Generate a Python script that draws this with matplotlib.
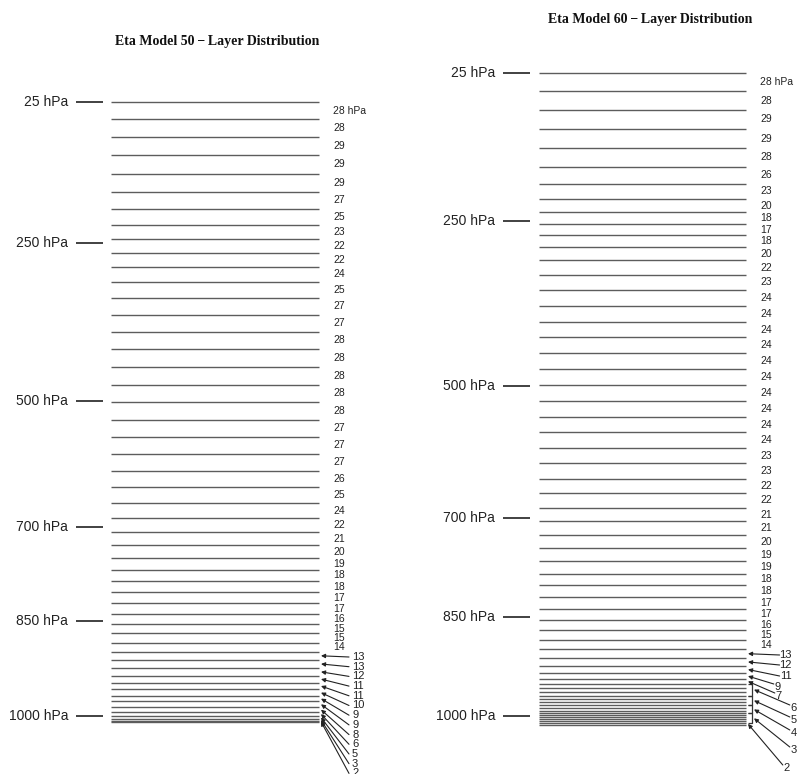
import matplotlib
matplotlib.use('Agg')
import matplotlib.pyplot as plt
import numpy as np

# ---------------- data ----------------
top_pressure = 25  # hPa, model top
ref_levels = [25, 250, 500, 700, 850, 1000]
ref_labels = ['25 hPa', '250 hPa', '500 hPa', '700 hPa', '850 hPa', '1000 hPa']

titles = ['Eta Model 50\u2009\u2212\u2009Layer Distribution',
          'Eta Model 60\u2009\u2212\u2009Layer Distribution']

# layer thickness (hPa), top to bottom
thick50 = [28, 28, 29, 29, 29, 27, 25, 23, 22, 22, 24, 25, 27, 27, 28, 28, 28, 28, 28,
           27, 27, 27, 26, 25, 24, 22, 21, 20, 19, 18, 18, 17, 17, 16, 15, 15, 14,
           13, 13, 12, 11, 11, 10, 9, 9, 8, 6, 5, 3, 2]
thick60 = [28, 28, 29, 29, 28, 26, 23, 20, 18, 17, 18, 20, 22, 23,
           24, 24, 24, 24, 24, 24, 24, 24, 24, 24,
           23, 23, 22, 22, 21, 21, 20, 19, 19, 18, 18, 17, 17, 16, 15, 14,
           13, 12, 11, 9, 7,
           6, 6, 6, 5, 5, 5, 4, 4, 4, 3, 3, 3, 3, 3, 2]
# number of layers sharing one label (bracketed groups)
groups50 = [1] * 50
groups60 = [1] * 45 + [3, 3, 3, 5, 1]

# ---------------- layout (pixels) ----------------
W, H = 797, 774
panels = [
    dict(thick=thick50, groups=groups50, title=titles[0], title_xy=(217, 42),
         xlim=(0, 400), px_top=101.7, scale=0.630,
         line_x=(111, 319), tick_x=(76, 103), label_x=333,
         arrow_start=37, tip_x=321, bracket_x=None,
         arrow_lab_y=[657 + 9.7 * k for k in range(13)],
         arrow_lab_x=[352] * 13, arrow_ha='left'),
    dict(thick=thick60, groups=groups60, title=titles[1], title_xy=(650, 20),
         xlim=(400, 797), px_top=73.0, scale=0.6595,
         line_x=(539, 746), tick_x=(503, 530), label_x=760,
         arrow_start=40, tip_x=748, bracket_x=752,
         arrow_lab_y=[655, 665, 676, 687, 696, 708, 720, 733, 750, 768],
         arrow_lab_x=[792, 792, 792, 781, 782, 797, 797, 797, 797, 790], arrow_ha='right'),
]

plt.rcParams['font.family'] = ['Liberation Sans', 'DejaVu Sans']
fig = plt.figure(figsize=(W / 100, H / 100), dpi=100)
fig.patch.set_facecolor('white')

LINE_C = '#5c5c5c'
TEXT_C = '#222222'

for P in panels:
    x0, x1 = P['xlim']
    ax = fig.add_axes([x0 / W, 0, (x1 - x0) / W, 1])
    ax.set_xlim(x0, x1)
    pfun = lambda ypx, P=P: top_pressure + (ypx - P['px_top']) / P['scale']
    ax.set_ylim(pfun(H), pfun(0))
    ax.axis('off')

    thick = np.array(P['thick'], dtype=float)
    interfaces = top_pressure + np.concatenate([[0], np.cumsum(thick)])

    # model interfaces
    ax.hlines(interfaces, P['line_x'][0], P['line_x'][1], color=LINE_C, lw=1.0)

    # reference pressure marks
    ax.hlines(ref_levels, P['tick_x'][0], P['tick_x'][1], color='#333333', lw=1.3)
    for lev, lab in zip(ref_levels, ref_labels):
        ax.text(P['tick_x'][0] - 8, lev, lab, ha='right', va='center',
                fontsize=10, color=TEXT_C)

    # layer thickness labels
    i = 0
    k_arrow = 0
    for gi, n in enumerate(P['groups']):
        ptop, pbot = interfaces[i], interfaces[i + n]
        mid = 0.5 * (ptop + pbot)
        val = int(thick[i])
        if gi < P['arrow_start']:
            txt = f'{val} hPa' if gi == 0 else f'{val}'
            ax.text(P['label_x'], mid, txt, ha='left', va='center',
                    fontsize=7.5, color=TEXT_C)
        else:
            ly = pfun(P['arrow_lab_y'][k_arrow])
            lx = P['arrow_lab_x'][k_arrow]
            ax.text(lx, ly, f'{val}', ha=P['arrow_ha'], va='center',
                    fontsize=8, color=TEXT_C)
            if P['arrow_ha'] == 'left':
                tail = (lx - 3, ly)
            else:
                wchar = 5.2 * len(str(val))
                tail = (lx - wchar - 2, ly - (3 / P['scale'] if k_arrow > 2 else 0))
            tip_x = P['tip_x']
            if n > 1 and P['bracket_x'] is not None:
                bx = P['bracket_x']
                ax.plot([bx - 4, bx, bx, bx - 4], [ptop, ptop, pbot, pbot],
                        color='#333333', lw=0.9, solid_capstyle='butt')
                tip_x = bx + 2
            ax.annotate('', xy=(tip_x, mid), xytext=tail,
                        arrowprops=dict(arrowstyle='-|>', lw=0.8, color='#222222',
                                        mutation_scale=6, shrinkA=0, shrinkB=0))
            k_arrow += 1
        i += n

    fig.text(P['title_xy'][0] / W, 1 - P['title_xy'][1] / H, P['title'],
             ha='center', va='center', fontsize=10, fontweight='bold',
             family=['Liberation Serif', 'DejaVu Serif'], color='#111111')

fig.savefig('out.png', dpi=100, facecolor='white')
